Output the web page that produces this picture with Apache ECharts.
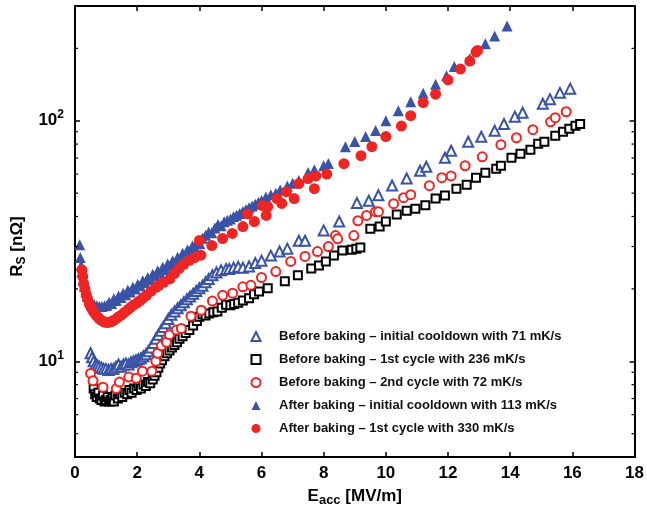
<!DOCTYPE html>
<html>
<head>
<meta charset="utf-8">
<script src="https://cdn.jsdelivr.net/npm/echarts@6/dist/echarts.min.js"></script>
<style>
html,body{margin:0;padding:0;background:#fff;}
#c{width:647px;height:512px;}
</style>
</head>
<body>
<div id="c"></div>
<script>
// ---- data ----
const xTicks = [0,2,4,6,8,10,12,14,16,18];
const yMajorTicks = [10,100];
const yMinorTicks = [5,6,7,8,9,20,30,40,50,60,70,80,90,200,300];

const seriesNames = [
  'Before baking \u2013 initial cooldown with 71 mK/s',
  'Before baking \u2013 1st cycle with 236 mK/s',
  'Before baking \u2013 2nd cycle with 72 mK/s',
  'After baking \u2013 initial cooldown with 113 mK/s',
  'After baking \u2013 1st cycle with 330 mK/s'
];

const beforeInitial = [
  [0.5,10.8],[0.55,10.4],[0.6,10.0],[0.66,9.7],[0.72,9.6],[0.78,9.5],[0.85,9.4],[0.92,9.3],[1.0,9.3],[1.08,9.2],
  [1.16,9.3],[1.24,9.3],[1.32,9.5],[1.4,9.7],[1.48,9.5],[1.56,9.7],[1.64,9.8],[1.72,9.7],[1.8,9.9],[1.88,10.0],
  [1.96,10.1],[2.04,10.2],[2.12,10.3],[2.2,10.5],[2.28,10.7],[2.36,11.0],[2.44,11.4],[2.52,11.9],[2.6,12.4],[2.68,12.9],
  [2.76,13.4],[2.84,13.9],[2.92,14.4],[3.0,15.0],[3.1,15.6],[3.2,16.1],[3.3,16.6],[3.4,17.1],[3.5,17.6],[3.6,18.1],
  [3.7,18.6],[3.8,19.1],[3.9,19.6],[4.0,20.1],[4.1,20.6],[4.2,21.3],[4.3,22.0],[4.42,22.8],[4.55,23.4],[4.7,23.9],
  [4.86,24.2],[4.96,24.2],[5.1,24.5],[5.25,24.7],[5.4,24.5],[5.6,24.8],[5.8,25.6],[6.0,26.2],[6.3,27.5],[6.58,28.6],
  [6.83,29.4],[7.2,31.7],[7.4,31.7],[8.0,35.0],[8.5,38.1],[9.07,45.5],[9.45,46.5],[9.76,49.0],[10.2,53.8],[10.67,57.5],
  [11.1,62.0],[11.3,64.4],[11.9,70.2],[12.1,75.0],[12.65,81.8],[13.07,85.8],[13.5,90.9],[13.8,97.0],[14.15,104],[14.4,108],
  [15.05,117.6],[15.28,123],[15.6,130.6],[15.93,136]
];

const beforeCycle1 = [
  [0.6,7.7],[0.65,7.3],[0.7,7.1],[0.75,7.4],[0.8,7.0],[0.85,6.9],[0.9,7.2],[0.95,6.8],[1.0,6.9],[1.05,7.1],
  [1.1,6.8],[1.15,6.9],[1.2,7.0],[1.25,6.8],[1.3,7.2],[1.38,7.0],[1.45,7.3],[1.52,7.1],[1.6,7.4],[1.68,7.3],
  [1.75,7.6],[1.82,7.4],[1.9,7.7],[1.98,7.6],[2.05,7.9],[2.12,7.7],[2.2,8.0],[2.28,7.9],[2.35,8.2],[2.42,8.1],
  [2.5,8.4],[2.56,8.7],[2.62,9.0],[2.68,9.4],[2.74,9.8],[2.8,10.1],[2.88,10.5],[2.96,10.8],[3.04,11.1],[3.12,11.4],
  [3.2,11.7],[3.28,12.0],[3.36,12.4],[3.46,12.7],[3.56,13.1],[3.68,13.5],[3.8,14.1],[3.92,14.7],[4.0,15.3],[4.1,15.7],
  [4.2,15.5],[4.32,15.8],[4.45,16.0],[4.58,16.1],[4.72,16.7],[4.86,17.2],[5.0,17.1],[5.12,17.3],[5.25,17.5],[5.4,17.9],
  [5.6,18.3],[5.76,19.0],[5.92,19.5],[6.2,20.1],[6.75,21.5],[7.17,22.8],[7.6,24.3],[7.85,25.0],[8.07,26.0],[8.33,27.5],
  [8.6,28.9],[8.9,29.1],[9.05,29.4],[9.18,29.7],[9.5,35.6],[9.8,36.3],[10.0,38.1],[10.35,40.8],[10.67,42.3],[10.95,43.1],
  [11.27,44.5],[11.6,47.5],[11.9,48.9],[12.27,52.2],[12.6,54.2],[12.9,58.0],[13.2,60.8],[13.55,63.2],[13.7,65.0],[14.04,70.2],
  [14.33,73.0],[14.65,75.8],[14.9,80.3],[15.1,81.8],[15.45,86.6],[15.7,90.0],[15.9,92.6],[16.1,95.4],[16.25,97.0]
];

const beforeCycle2 = [
  [0.5,8.9],[0.58,8.3],[0.9,7.8],[1.33,7.7],[1.43,8.2],[1.73,8.6],[1.97,8.5],[2.17,9.1],[2.47,9.1],[2.6,10.0],
  [2.66,10.8],[2.78,11.6],[2.94,12.0],[3.04,12.9],[3.26,13.5],[3.42,13.7],[3.73,15.4],[4.06,16.3],[4.42,17.8],[4.75,18.8],
  [5.07,19.2],[5.4,20.4],[5.66,20.7],[6.0,22.3],[6.46,23.6],[6.94,26.0],[7.4,27.3],[7.8,28.6],[8.15,30.0],[8.38,33.3],
  [8.45,32.3],[8.97,33.3],[9.1,38.4],[9.38,40.4],[9.67,41.9],[9.76,41.9],[10.25,45.2],[10.57,47.9],[10.8,49.3],[11.4,53.7],
  [11.8,58.0],[12.1,59.0],[12.55,65.0],[13.1,70.8],[13.7,79.5],[14.2,85.0],[14.73,91.8],[15.3,99.0],[15.45,103],[15.8,109]
];

const afterInitial = [
  [0.15,30.5],[0.17,27.0],[0.2,25.0],[0.22,23.5],[0.26,21.8],[0.3,20.5],[0.35,19.4],[0.4,18.6],[0.47,18.0],[0.55,17.5],
  [0.62,17.2],[0.7,17.0],[0.78,16.9],[0.86,16.9],[0.95,17.0],[1.03,17.1],[1.1,17.6],[1.18,17.4],[1.25,18.2],[1.33,17.9],
  [1.4,18.7],[1.48,18.4],[1.55,19.2],[1.63,18.9],[1.7,19.8],[1.78,19.4],[1.86,20.3],[1.94,20.0],[2.02,20.9],[2.1,20.6],
  [2.18,21.6],[2.26,21.2],[2.34,22.3],[2.42,21.9],[2.5,23.0],[2.58,22.6],[2.66,23.8],[2.74,23.3],[2.82,24.6],[2.9,24.1],
  [2.98,25.4],[3.06,24.9],[3.14,26.2],[3.22,25.7],[3.3,27.1],[3.38,26.6],[3.46,28.1],[3.54,27.6],[3.62,29.1],[3.7,28.6],
  [3.78,30.2],[3.86,29.7],[3.94,31.3],[4.02,30.8],[4.1,32.5],[4.2,33.4],[4.3,34.5],[4.4,34.2],[4.5,35.8],[4.6,37.0],
  [4.7,36.6],[4.8,38.0],[4.9,38.6],[5.0,39.0],[5.1,40.0],[5.2,40.5],[5.3,41.2],[5.4,42.0],[5.5,42.8],[5.6,43.5],
  [5.7,44.2],[5.8,45.0],[5.9,45.8],[6.0,46.6],[6.14,48.2],[6.3,49.2],[6.46,50.0],[6.6,51.5],[6.83,53.6],[7.0,55.0],
  [7.2,56.5],[7.5,61.0],[7.7,62.5],[8.0,65.0],[8.15,66.5],[8.7,78.0],[9.0,82.0],[9.35,86.0],[9.67,91.0],[10.0,100],
  [10.4,110],[10.8,120],[11.2,130],[11.6,142],[11.95,154],[12.2,168],[12.7,181],[13.2,209],[13.5,225],[13.9,248]
];

const afterCycle1 = [
  [0.22,24.0],[0.25,22.5],[0.28,21.0],[0.32,20.0],[0.36,19.0],[0.4,18.2],[0.46,17.3],[0.52,16.7],[0.58,16.2],[0.64,15.8],
  [0.7,15.4],[0.77,15.1],[0.85,14.8],[0.93,14.6],[1.0,14.5],[1.08,14.5],[1.16,14.6],[1.24,14.8],[1.32,15.0],[1.4,15.3],
  [1.5,15.6],[1.6,16.0],[1.7,16.4],[1.8,16.8],[1.9,17.2],[2.0,17.5],[2.1,17.9],[2.2,18.4],[2.3,18.8],[2.45,19.6],
  [2.6,20.3],[2.7,20.7],[2.85,21.3],[3.05,22.0],[3.2,23.2],[3.35,24.3],[3.5,25.3],[3.68,26.3],[3.85,27.0],[4.05,27.6],
  [4.0,31.8],[4.4,30.3],[4.75,32.4],[5.06,34.0],[5.4,36.3],[5.55,41.0],[5.77,38.1],[6.03,44.4],[6.15,40.4],[6.2,44.0],
  [6.5,47.5],[6.65,45.3],[6.8,50.7],[7.05,47.5],[7.2,54.8],[7.5,57.5],[7.7,52.2],[7.75,59.0],[8.1,60.0],[8.65,66.3],
  [9.2,71.6],[9.55,78.0],[10.0,86.0],[10.5,95.0],[10.8,105],[11.2,119],[11.6,129],[12.0,148],[12.4,164],[12.7,177],
  [12.9,193],[12.95,196]
];

// ---- chart ----
const FONT = '"Liberation Sans", Arial, Helvetica, sans-serif';
const BLUE = '#3953a6';
const RED = '#ee2524';
const chart = echarts.init(document.getElementById('c'), null, {renderer: 'canvas'});

const yLabelFmt = v => {
  if (v === 10) return '{b|10}{s|1}';
  if (v === 100) return '{b|10}{s|2}';
  return '';
};

const axisLineStyle = {show: true, onZero: false, lineStyle: {color: '#000', width: 2}};
const majorTick = {show: true, inside: true, length: 5, lineStyle: {color: '#000', width: 1.5}};

const option = {
  animation: false,
  backgroundColor: '#fff',
  textStyle: {fontFamily: FONT},
  grid: {left: 75, right: 10, top: 6, bottom: 53, containLabel: false},
  legend: {
    data: seriesNames,
    orient: 'vertical',
    left: 250.5, top: 330,
    itemWidth: 9, itemHeight: 9, itemGap: 10,
    padding: 0,
    itemStyle: {borderWidth: 1.2},
    textStyle: {fontFamily: FONT, fontSize: 13, fontWeight: 'bold', color: '#111', padding: [0, 0, 0, 13.5]},
    selectedMode: false
  },
  xAxis: [{
    type: 'value', min: 0, max: 18, interval: 2, position: 'bottom',
    axisLine: axisLineStyle, axisTick: majorTick,
    splitLine: {show: false},
    axisLabel: {color: '#000', fontFamily: FONT, fontSize: 17, fontWeight: 'bold', margin: 8},
    name: '{e|E}{sub|acc}{e| [MV/m]}',
    nameLocation: 'middle', nameGap: 28,
    nameTextStyle: {rich: {
      e: {fontFamily: FONT, fontSize: 17, fontWeight: 'bold', color: '#000'},
      sub: {fontFamily: FONT, fontSize: 13, fontWeight: 'bold', color: '#000', padding: [9, 0, 0, 0]}
    }}
  }, {
    type: 'value', min: 0, max: 18, interval: 2, position: 'top',
    axisLine: axisLineStyle, axisTick: majorTick,
    splitLine: {show: false}, axisLabel: {show: false}
  }],
  yAxis: [{
    type: 'log', logBase: 10, min: 4, max: 300, position: 'left',
    axisLine: axisLineStyle, axisTick: majorTick,
    splitLine: {show: false},
    axisLabel: {
      formatter: yLabelFmt, margin: 11, showMinLabel: false, showMaxLabel: false,
      rich: {
        b: {fontFamily: FONT, fontSize: 17, fontWeight: 'bold', color: '#000'},
        s: {fontFamily: FONT, fontSize: 12, fontWeight: 'bold', color: '#000', padding: [0, 0, 12, 0]}
      }
    },
    name: '{r|R}{sub|S}{r| [n\u03A9]}',
    nameLocation: 'middle', nameGap: 35, nameRotate: 90,
    nameTextStyle: {padding: [0, 30, 0, 0], rich: {
      r: {fontFamily: FONT, fontSize: 17, fontWeight: 'bold', color: '#000'},
      sub: {fontFamily: FONT, fontSize: 12, fontWeight: 'bold', color: '#000', padding: [8, 0, 0, 0]}
    }}
  }, {
    type: 'log', logBase: 10, min: 4, max: 300, position: 'right',
    axisLine: axisLineStyle, axisTick: majorTick,
    splitLine: {show: false}, axisLabel: {show: false}
  }],
  series: [
    {name: seriesNames[0], type: 'scatter', data: beforeInitial, symbol: 'emptyTriangle', symbolSize: 10,
     itemStyle: {color: BLUE, borderColor: BLUE, borderWidth: 1.6, opacity: 1}},
    {name: seriesNames[1], type: 'scatter', data: beforeCycle1, symbol: 'emptyRect', symbolSize: 8,
     itemStyle: {color: '#000', borderColor: '#000', borderWidth: 2, opacity: 1}},
    {name: seriesNames[2], type: 'scatter', data: beforeCycle2, symbol: 'emptyCircle', symbolSize: 9,
     itemStyle: {color: RED, borderColor: RED, borderWidth: 2, opacity: 1}},
    {name: seriesNames[3], type: 'scatter', data: afterInitial, symbol: 'triangle', symbolSize: 11,
     itemStyle: {color: BLUE, opacity: 1}},
    {name: seriesNames[4], type: 'scatter', data: afterCycle1, symbol: 'circle', symbolSize: 11,
     itemStyle: {color: RED, opacity: 1}},
    {
      type: 'custom', silent: true, clip: false, z: 10,
      data: yMinorTicks.map(v => [0, v]),
      renderItem: (params, api) => {
        const v = api.value(1);
        const l = api.coord([0, v]);
        const r = api.coord([18, v]);
        return {type: 'group', children: [
          {type: 'line', shape: {x1: l[0], y1: l[1], x2: l[0] + 3, y2: l[1]}, style: {stroke: '#000', lineWidth: 1.2}},
          {type: 'line', shape: {x1: r[0], y1: r[1], x2: r[0] - 3, y2: r[1]}, style: {stroke: '#000', lineWidth: 1.2}}
        ]};
      }
    }
  ]
};
chart.setOption(option);
</script>
</body>
</html>
